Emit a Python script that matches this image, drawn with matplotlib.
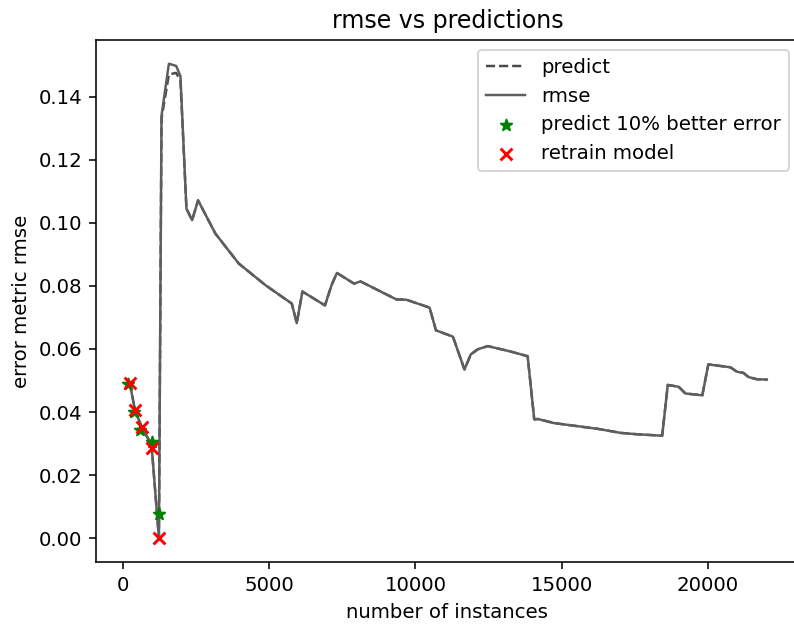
import matplotlib

matplotlib.use("Agg")

import matplotlib.pyplot as plt

# number of instances seen at each evaluation step
instances = [
    225, 409, 634, 975, 1227, 1316, 1568, 1817, 1963, 2168, 2362, 2566,
    3156, 3954, 4860, 5429, 5770, 5941, 6135, 6905, 7134, 7314, 7900, 8122,
    9349, 9690, 10484, 10702, 11282, 11677, 11895, 12134, 12474, 13211, 13838,
    14063, 14189, 14744, 16224, 17018, 17529, 18439, 18630, 19005, 19233,
    19812, 20017, 20767, 20995, 21220, 21391, 21677, 22018,
]
rmse = [
    0.0493, 0.0407, 0.0353, 0.0296, 0.0000, 0.1340, 0.1504, 0.1497, 0.1465,
    0.1045, 0.1008, 0.1071, 0.0966, 0.0871, 0.0803, 0.0766, 0.0744, 0.0682,
    0.0782, 0.0738, 0.0803, 0.0841, 0.0807, 0.0814, 0.0757, 0.0756, 0.0731,
    0.0659, 0.0639, 0.0535, 0.0583, 0.0599, 0.0609, 0.0593, 0.0577, 0.0377,
    0.0378, 0.0365, 0.0347, 0.0334, 0.0330, 0.0325, 0.0486, 0.0480, 0.0459,
    0.0453, 0.0551, 0.0542, 0.0528, 0.0524, 0.0511, 0.0504, 0.0503,
]
predict = [
    0.0493, 0.0407, 0.0353, 0.0296, 0.0000, 0.1330, 0.1470, 0.1475, 0.1450,
    0.1045, 0.1008, 0.1071, 0.0966, 0.0871, 0.0803, 0.0766, 0.0744, 0.0682,
    0.0782, 0.0738, 0.0803, 0.0841, 0.0807, 0.0814, 0.0757, 0.0756, 0.0731,
    0.0659, 0.0639, 0.0535, 0.0583, 0.0599, 0.0609, 0.0593, 0.0577, 0.0377,
    0.0378, 0.0365, 0.0347, 0.0334, 0.0330, 0.0325, 0.0486, 0.0480, 0.0459,
    0.0453, 0.0551, 0.0542, 0.0528, 0.0524, 0.0511, 0.0504, 0.0503,
]

# points where the prediction beat the error by 10%
better_x = [170, 385, 590, 999, 1227]
better_y = [0.0489, 0.0400, 0.0344, 0.0306, 0.0078]

# points where the model was retrained
retrain_x = [225, 409, 634, 975, 1227]
retrain_y = [0.0493, 0.0407, 0.0353, 0.0286, 0.0000]

DPI = 142


def main() -> None:
    fig, ax = plt.subplots(figsize=(794 / DPI, 625 / DPI), dpi=DPI)
    # right spine sits just past the image edge, like the cropped original
    fig.subplots_adjust(left=0.121, right=1.006, top=0.936, bottom=0.1008)

    ax.plot(instances, predict, linestyle="--", linewidth=1.25,
            color="#4a4a4a", label="predict")
    ax.plot(instances, rmse, linewidth=1.25, color="#5e5e5e", label="rmse")
    ax.scatter(better_x, better_y, marker="*", color="green",
               label="predict 10% better error", zorder=3)
    ax.scatter(retrain_x, retrain_y, marker="x", color="red",
               label="retrain model", zorder=3)

    ax.set_title("rmse vs predictions")
    ax.set_xlabel("number of instances")
    ax.set_ylabel("error metric rmse")
    ax.legend(loc="upper right")

    fig.savefig("out.png", dpi=DPI)
    plt.close(fig)


if __name__ == "__main__":
    main()
